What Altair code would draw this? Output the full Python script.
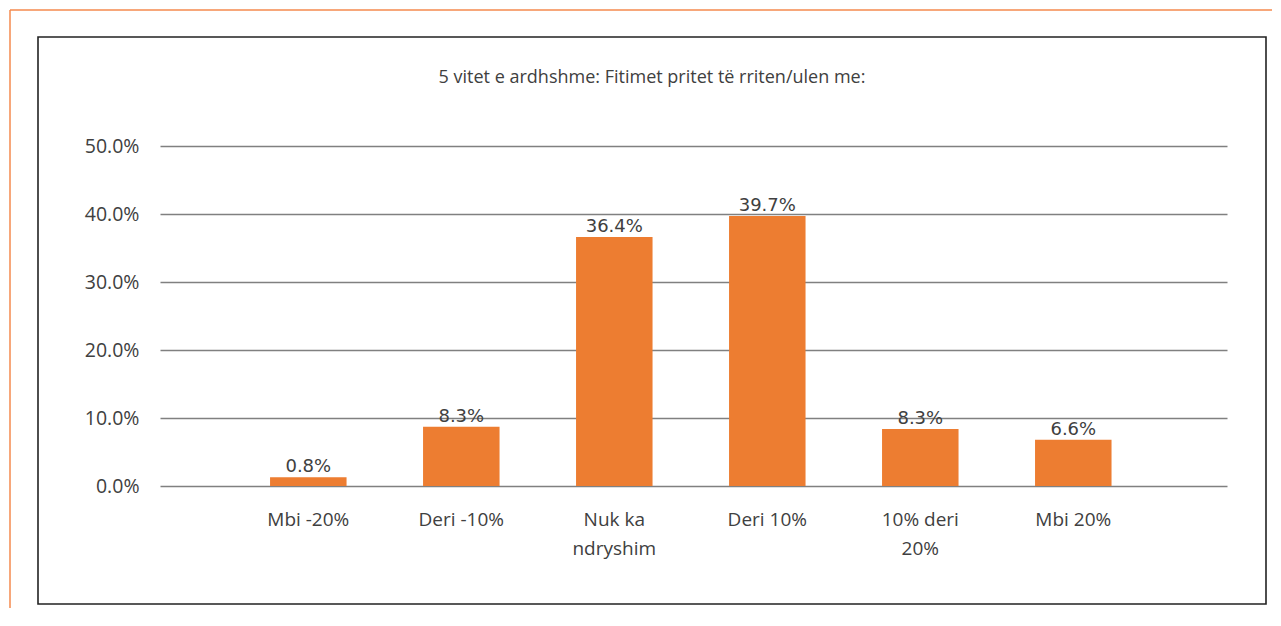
import altair as alt
import pandas as pd

categories = ["Mbi -20%", "Deri -10%", "Nuk ka ndryshim", "Deri 10%", "10% deri 20%", "Mbi 20%"]
values = [1.3, 8.7, 36.6, 39.7, 8.4, 6.8]
labels = ["0.8%", "8.3%", "36.4%", "39.7%", "8.3%", "6.6%"]
y_ticks = [0, 10, 20, 30, 40, 50]
title_text = "5 vitet e ardhshme: Fitimet pritet të rriten/ulen me:"

df = pd.DataFrame({"cat": categories, "val": values, "lab": labels})

FONT = "Open Sans"
W, H = 1067, 340

xscale = alt.Scale(paddingInner=0.5, paddingOuter=0.737, align=0.488)

x = alt.X(
    "cat:N",
    sort=categories,
    title=None,
    scale=xscale,
    axis=alt.Axis(
        labelExpr="datum.label == 'Nuk ka ndryshim' ? ['Nuk ka', 'ndryshim'] : datum.label == '10% deri 20%' ? ['10% deri', '20%'] : datum.label",
        labelAngle=0,
        labelFont=FONT,
        labelFontSize=19,
        labelColor="#404040",
        labelLineHeight=29,
        labelPadding=24,
        ticks=False,
        domain=False,
        grid=False,
        labelBaseline="top",
    ),
)
y = alt.Y(
    "val:Q",
    title=None,
    scale=alt.Scale(domain=[0, 50]),
    axis=alt.Axis(
        values=y_ticks,
        labelExpr="format(datum.value, '.1f') + '%'",
        labelFont=FONT,
        labelFontSize=19.5,
        labelColor="#404040",
        labelPadding=21,
        tickSize=0,
        ticks=False,
        domain=False,
        grid=True,
        gridColor="#808080",
        gridWidth=1.4,
    ),
)

bars = alt.Chart(df).mark_bar(color="#ED7D31").encode(x=x, y=y)
text = alt.Chart(df).mark_text(
    font="DejaVu Sans", fontSize=18, color="#404040", baseline="alphabetic", dy=-5
).encode(x=alt.X("cat:N", sort=categories, scale=xscale), y="val:Q", text="lab:N")

one = alt.Data(values=[{"a": 1}])
frame = alt.Chart(one).mark_rect(fill="transparent", stroke="#222222", strokeWidth=1.6).encode(
    x=alt.value(-122), x2=alt.value(1106), y=alt.value(-109), y2=alt.value(458)
)
orange_top = alt.Chart(one).mark_rule(color="#F58A4E", strokeWidth=1.5).encode(
    x=alt.value(-150), x2=alt.value(1140), y=alt.value(-136)
)
orange_left = alt.Chart(one).mark_rule(color="#F58A4E", strokeWidth=1.5).encode(
    x=alt.value(-150), y=alt.value(-136), y2=alt.value(480)
)
title = alt.Chart(one).mark_text(
    font=FONT, fontSize=18, color="#404040", baseline="middle", align="center"
).encode(x=alt.value(492), y=alt.value(-68), text=alt.value(title_text))

chart = alt.layer(frame, orange_top, orange_left, bars, text, title).properties(
    width=W,
    height=H,
    background="white",
    autosize=alt.AutoSizeParams(type="none"),
    padding={"left": 152, "top": 138, "right": 45, "bottom": 122},
).configure_view(stroke="transparent", strokeWidth=0)

chart.save("out.html", embed_options={"renderer": "svg", "actions": False})
